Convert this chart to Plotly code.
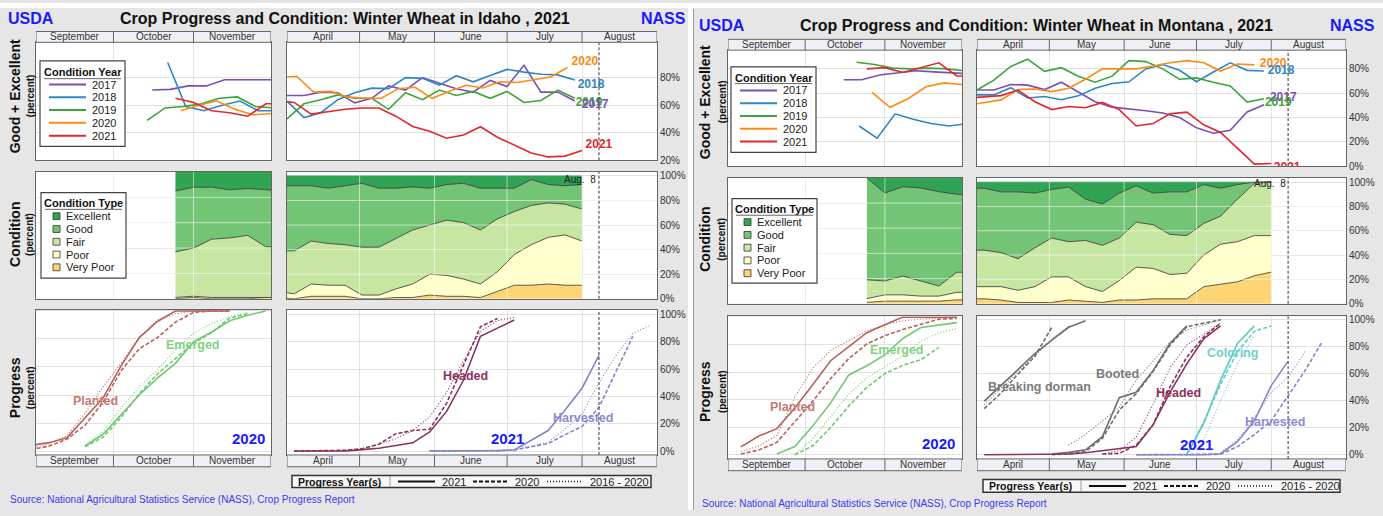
import plotly.graph_objects as go

W, H = 1383, 516
FONT = "Liberation Sans, Arial, Helvetica, sans-serif"

# ---------------- categories / labels ----------------
YEARS = ["2017", "2018", "2019", "2020", "2021"]
COND_TYPES = ["Excellent", "Good", "Fair", "Poor", "Very Poor"]
FALL_MONTHS = ["September", "October", "November"]
FALL_MONTH_LEN = [30, 31, 30]
SPRING_MONTHS = ["April", "May", "June", "July", "August"]
SPRING_MONTH_LEN = [30, 31, 30, 31, 31]
PROGRESS_YEARS = ["2021", "2020", "2016 - 2020"]
LAST_WEEK_DAY = 129  # Aug. 8, days after Apr 1

# ======================= IDAHO =======================
# Good+Excellent (%), weekly; fall x = days after Sep 1, spring x = days after Apr 1
ID_FALL_FIRST = [45, 51, 43, 56, 54]
ID_FALL_GE_2017 = [71, 71.5, 74, 74, 78.5, 78.5, 78.5, 78.5]
ID_FALL_GE_2018 = [91, 59, 56, 60, 63, 56, 56]
ID_FALL_GE_2019 = [49, 58, 59, 61, 65, 66, 59, 58]
ID_FALL_GE_2020 = [56, 60, 63, 57, 53, 54]
ID_FALL_GE_2021 = [65, 62, 56, 54.5, 52, 61, 61]

ID_SPR_FIRST = [0, 0, 0, -3, -4]
ID_SPR_GE_2017 = [67, 67, 69.5, 69, 61.7, 65, 74, 71, 80, 76, 72, 69.5, 78, 73.6, 89, 69.5, 69.5, 63]
ID_SPR_GE_2018 = [63, 51, 54.5, 64, 69, 72.4, 72, 80, 79.5, 74.5, 81.4, 77, 81.5, 86, 84, 82.5, 82, 78.3]
ID_SPR_GE_2019 = [50, 61, 64, 67.5, 65, 65, 57, 69, 64, 71, 67, 70, 65, 70, 62, 63.4, 71, 65]
ID_SPR_GE_2020 = [80, 81, 69.5, 70, 66, 65, 65, 72, 73, 65, 70, 74.5, 72.5, 77, 76.5, 78.5, 80.5, 87.4]
ID_SPR_GE_2021 = [63, 62, 53.5, 55.5, 57, 58, 58, 52, 44.5, 41, 36, 38.3, 44.3, 36.7, 30.7, 25.2, 22.4, 23, 27]

# Condition (%), 2021 crop
ID_FALL_COND_FIRST = 54
ID_FALL_EXC = [15, 12, 12, 14, 13, 14, 15]
ID_FALL_GOOD = [48, 48, 41, 38, 37, 45, 44]
ID_FALL_FAIR = [36, 38, 46, 47, 49, 40, 40]
ID_FALL_POOR = [1, 1, 1, 1, 1, 0, 0]
ID_FALL_VPOOR = [0, 1, 0, 0, 0, 1, 1]

ID_SPR_COND_FIRST = -4
ID_SPR_EXC = [8, 8, 8, 10, 8, 6, 10, 10, 9, 10, 7, 6, 10, 10, 10, 3, 7, 8, 7]
ID_SPR_GOOD = [53, 53, 45, 45, 48, 52, 48, 41, 35, 30, 29, 32, 34, 25, 19, 21, 15, 15, 20]
ID_SPR_FAIR = [33, 35, 35, 34, 33, 39, 39, 41, 44, 40, 45, 46, 44, 43, 35, 32, 28, 25, 26]
ID_SPR_POOR = [5, 4, 10, 9, 9, 3, 3, 7, 11, 17, 17, 14, 11, 16, 25, 33, 38, 41, 36]
ID_SPR_VPOOR = [1, 0, 2, 2, 2, 0, 0, 1, 1, 3, 2, 2, 1, 6, 11, 11, 12, 11, 11]

# Progress (%): [2021, 2020, 2016-2020 avg]
ID_PLANTED_FIRST = [-2, -2, -2]
ID_PLANTED_2021 = [4, 6, 9.5, 24, 38, 61, 81, 92.5, 100, 100, 100, 100]
ID_PLANTED_2020 = [1, 3.5, 8.5, 18.5, 35, 57.5, 73, 81, 92, 99, 100, 100]
ID_PLANTED_AVG = [2, 5, 11, 27, 46, 63, 81, 93.5, 98, 100, 100]
ID_EMERGED_FIRST = [19, 19, 19]
ID_EMERGED_2021 = [3.6, 12, 26, 40, 52, 62.6, 78, 85, 93, 97, 100]
ID_EMERGED_2020 = [3, 10, 24, 41, 55, 66, 77, 84.5, 95, 98]
ID_EMERGED_AVG = [4, 14, 31, 46, 58, 72, 84, 91, 96, 99]
ID_HEADED_FIRST = [3, 3, 3]
ID_HEADED_2021 = [0, 0, 0, 0, 1, 2, 4, 6, 14, 29, 52, 84, 90, 96]
ID_HEADED_2020 = [0, 0, 0, 0.5, 1.5, 5, 12.7, 15, 16, 35, 63, 91, 97]
ID_HEADED_AVG = [0, 0, 0, 0.5, 2, 5, 9, 15, 25, 43, 66, 87.5, 95.5, 98]
ID_HARVEST_FIRST = [59, 59, 59]
ID_HARVEST_2021 = [0, 0, 0, 0, 0.3, 0.7, 8, 15, 30, 46, 70]
ID_HARVEST_2020 = [0, 0, 0, 0, 0.3, 0.7, 3, 5.5, 12, 18, 32, 58, 84]
ID_HARVEST_AVG = [0, 0, 0, 0, 0.3, 0.7, 3.5, 6.7, 16, 27, 50, 70, 86, 92]

# ======================= MONTANA =======================
MT_FALL_FIRST = [45, 51, 50, 56, 54]
MT_FALL_GE_2017 = [71, 71, 75, 76.5, 78.5, 77.5, 77, 76]
MT_FALL_GE_2018 = [33, 23, 43, 38.5, 35, 33, 35]
MT_FALL_GE_2019 = [85.5, 83.6, 80.6, 80, 80.6, 80, 78.5]
MT_FALL_GE_2020 = [60.7, 48.4, 55.4, 65.3, 68.5, 67.2]
MT_FALL_GE_2021 = [80, 81, 77, 81, 85, 74.2, 74]

MT_SPR_FIRST = [0, 0, 0, -4, -4]
MT_SPR_GE_2017 = [62.6, 62.6, 67.2, 66.6, 63, 69, 61, 53, 48.5, 47.2, 45.5, 43.7, 40, 31.5, 27, 29.5, 44.5, 50.5]
MT_SPR_GE_2018 = [58.6, 58.6, 64.5, 56, 57.3, 54.6, 57.8, 64, 68, 69.4, 80, 83.6, 78.8, 69.4, 77.4, 85, 78.8, 78.2]
MT_SPR_GE_2019 = [62.6, 70.7, 82, 88, 78, 81, 74, 69, 74, 86.8, 86, 80, 71.5, 72.6, 69, 66, 52.7, 55.4]
MT_SPR_GE_2020 = [50, 52, 54.5, 63, 63.4, 61.3, 64, 71.5, 80, 80, 80, 82.3, 85, 86.8, 85, 78.2, 84, 83.3]
MT_SPR_GE_2021 = [56, 57, 58, 62.6, 53, 46.5, 49, 48, 52.4, 46.5, 33, 35, 43, 44.4, 34, 27.7, 14.3, 1.6, 2.2]

MT_FALL_COND_FIRST = 54
MT_FALL_EXC = [0, 12, 7, 8, 11, 13, 14]
MT_FALL_GOOD = [81, 70, 71, 74, 75, 62, 61]
MT_FALL_FAIR = [15, 11, 15, 12, 8, 16, 16]
MT_FALL_POOR = [3, 5, 5, 4, 4, 6, 6]
MT_FALL_VPOOR = [1, 2, 2, 2, 2, 3, 3]

MT_SPR_COND_FIRST = -4
MT_SPR_EXC = [5, 5, 8, 8, 9, 6, 4, 14, 18, 9, 3, 9, 8, 8, 2, 5, 2, 0, 0]
MT_SPR_GOOD = [51, 51, 50, 55, 45, 40, 45, 34, 34, 37, 30, 26, 35, 36, 32, 23, 12, 1, 0]
MT_SPR_FAIR = [30, 30, 28, 26, 32, 32, 29, 38, 38, 35, 37, 36, 33, 31, 26, 23, 35, 43, 44]
MT_SPR_POOR = [10, 10, 11, 10, 13, 21, 19, 12, 9, 16, 27, 25, 20, 21, 26, 33, 33, 33, 30]
MT_SPR_VPOOR = [4, 4, 3, 1, 1, 1, 3, 2, 1, 3, 3, 4, 4, 4, 14, 16, 18, 23, 26]

MT_PLANTED_FIRST = [5, 5, 5]
MT_PLANTED_2021 = [5.7, 13.6, 19, 34, 51, 68.5, 78.5, 88.7, 94.5, 100, 100, 100, 100]
MT_PLANTED_2020 = [0.5, 3.5, 9, 24, 39, 55.5, 70, 80.5, 86.5, 91, 95, 98.5, 99]
MT_PLANTED_AVG = [2.2, 6.5, 14, 42, 63, 76, 83, 90, 94.5, 97.4, 98.5, 99.2, 100]
MT_EMERGED_FIRST = [19, 26, 26]
MT_EMERGED_2021 = [0.5, 6, 21, 38, 58, 64.7, 72.5, 84.5, 92.5, 94, 96]
MT_EMERGED_2020 = [0, 6.5, 20, 35.5, 49, 59, 65, 69, 78]
MT_EMERGED_AVG = [0.5, 11.5, 28, 44, 56, 64, 72, 82.5, 88.5, 91.8]
MT_BREAK_FIRST = [3, 3, 3]
MT_BREAK_2021 = [39.5, 51, 63, 74.5, 84.5, 94, 98.8]
MT_BREAK_2020 = [34, 45.5, 59.5, 72.5, 94]
MT_BREAK_AVG = [37, 49, 61, 73, 85, 95]
MT_BOOTED_FIRST = [31, 31, 38]
MT_BOOTED_2021 = [0.5, 1.7, 3.6, 13.3, 42, 46, 62, 82, 95]
MT_BOOTED_2020 = [0, 0.5, 2.4, 12, 33, 45, 61.4, 80.7, 94.5, 97, 99.5]
MT_BOOTED_AVG = [7, 15, 25, 35, 55, 69, 83, 92, 96, 99.5]
MT_HEADED_FIRST = [3, 52, 52]
MT_HEADED_2021 = [0, 0, 0, 0, 0, 0.5, 1.5, 3, 5, 6, 22, 46, 67, 85.5, 95]
MT_HEADED_2020 = [0.5, 1, 7, 22, 50, 72, 87, 97]
MT_HEADED_AVG = [0.5, 3, 13, 37, 64, 81, 89, 97]
MT_COLOR_FIRST = [87, 87, 87]
MT_COLOR_2021 = [0, 23, 55, 82, 95]
MT_COLOR_2020 = [0.5, 24, 52, 76, 91, 95]
MT_COLOR_AVG = [1, 11, 40, 67, 88]
MT_HARVEST_FIRST = [66, 66, 101]
MT_HARVEST_2021 = [0, 0, 0, 0, 0, 0.7, 9.6, 25, 51, 69]
MT_HARVEST_2020 = [0, 0, 0, 0, 0, 0.3, 6, 14.8, 25, 44, 62, 83]
MT_HARVEST_AVG = [1.5, 11, 27, 46, 57, 76]

# ---------------- styles ----------------
YEAR_COLORS = {"2017": "#7d4db6", "2018": "#2f86c6", "2019": "#3aa63a", "2020": "#ff8a12", "2021": "#e5262b"}
COND_COLORS = {"Excellent": "#31a354", "Good": "#74c476", "Fair": "#c7e6a2", "Poor": "#ffffcc", "Very Poor": "#fed574"}
STAGE_COLORS = {"Planted": "#b9615b", "Emerged": "#72c972", "Headed": "#8c3160", "Harvested": "#8585c9",
                "Breaking dorman": "#6e6e6e", "Booted": "#6e6e6e", "Coloring": "#5fcac4"}
LABEL_COLORS = {"Planted": "#c27a74", "Emerged": "#82d282", "Headed": "#8c3160", "Harvested": "#8a8ad0",
                "Breaking dorman": "#7a7a7a", "Booted": "#7a7a7a", "Coloring": "#6fd0ca"}
STYLE = {"2021": dict(dash="solid", width=1.6), "2020": dict(dash="4px,2px", width=1.6),
         "2016 - 2020": dict(dash="1px,2px", width=1.1)}
BG = "#e6e6e6"
GRID = "#e2e2e2"
FRAME = "#666666"
STRIP = "#efeff6"
BLUE = "#1a1aff"


def cumulative(lengths):
    b = [0]
    for v in lengths:
        b.append(b[-1] + v)
    return b


FALL_B = cumulative(FALL_MONTH_LEN)
SPR_B = cumulative(SPRING_MONTH_LEN)

fig = go.Figure()
shapes, annos, layout = [], [], {}


def fx(p):
    return p / W


def fy(p):
    return 1 - p / H


def weeks(first, vals):
    return [first + 7 * i for i in range(len(vals))]


def names(n):
    s = "" if n == 1 else str(n)
    return "xaxis" + s, "yaxis" + s, "x" + s, "y" + s


def make_axes(n, xpx, ypx, xb, yr, yticks, right):
    xk, yk, xr, yref = names(n)
    layout[xk] = dict(domain=[fx(xpx[0]), fx(xpx[1])], range=[xb[0], xb[-1]], anchor=yref,
                      tickvals=xb[1:-1], showticklabels=False, ticks="", showgrid=True,
                      gridcolor=GRID, gridwidth=1, zeroline=False, showline=True, mirror=True,
                      linecolor=FRAME, linewidth=1, fixedrange=True)
    ya = dict(domain=[fy(ypx[1]), fy(ypx[0])], range=yr, anchor=xr, tickvals=yticks,
              showgrid=True, gridcolor=GRID, gridwidth=1, zeroline=False, showline=True,
              mirror=True, linecolor=FRAME, linewidth=1, ticks="", fixedrange=True,
              showticklabels=right)
    if right:
        ya.update(side="right", ticktext=[f"{v}%" for v in yticks],
                  tickfont=dict(size=10, color="#333", family=FONT))
    layout[yk] = ya
    return xr, yref


def text(x, y, s, size=11, color="#222", bold=False, anchor="center", angle=0):
    annos.append(dict(x=fx(x), y=fy(y), xref="paper", yref="paper",
                      text=f"<b>{s}</b>" if bold else s, showarrow=False, xanchor=anchor,
                      yanchor="middle", textangle=angle,
                      font=dict(size=size, color=color, family=FONT)))


def prect(x0, y0, x1, y1, fill, lc=None, lw=1.0, layer="above"):
    shapes.append(dict(type="rect", xref="paper", yref="paper", x0=fx(x0), x1=fx(x1),
                       y0=fy(y1), y1=fy(y0), fillcolor=fill, layer=layer,
                       line=dict(color=lc if lc else "rgba(0,0,0,0)", width=lw if lc else 0)))


def pline(x0, y0, x1, y1, color, width=1.0, dash="solid"):
    shapes.append(dict(type="line", xref="paper", yref="paper", x0=fx(x0), x1=fx(x1),
                       y0=fy(y0), y1=fy(y1), line=dict(color=color, width=width, dash=dash),
                       layer="above"))


def month_strip(xr, xb, mnames, y0, y1):
    shapes.append(dict(type="rect", xref=xr, yref="paper", x0=xb[0], x1=xb[-1], y0=fy(y1),
                       y1=fy(y0), fillcolor=STRIP, line=dict(color=FRAME, width=1), layer="above"))
    for b in xb[1:-1]:
        shapes.append(dict(type="line", xref=xr, yref="paper", x0=b, x1=b, y0=fy(y1), y1=fy(y0),
                           line=dict(color=FRAME, width=1), layer="above"))
    for i, nm in enumerate(mnames):
        annos.append(dict(xref=xr, yref="paper", x=(xb[i] + xb[i + 1]) / 2, y=fy((y0 + y1) / 2),
                          text=nm, showarrow=False, xanchor="center", yanchor="middle",
                          font=dict(size=10, color="#333", family=FONT)))


def grid_overlay(xr, yref, xb, yvals):
    c = "rgba(255,255,255,0.55)"
    for v in yvals:
        shapes.append(dict(type="line", xref=xr + " domain", yref=yref, x0=0, x1=1, y0=v, y1=v,
                           line=dict(color=c, width=1), layer="above"))
    for b in xb[1:-1]:
        shapes.append(dict(type="line", xref=xr, yref=yref + " domain", x0=b, x1=b, y0=0, y1=1,
                           line=dict(color=c, width=1), layer="above"))


def week_line(xr, yref):
    shapes.append(dict(type="line", xref=xr, yref=yref + " domain", x0=LAST_WEEK_DAY,
                       x1=LAST_WEEK_DAY, y0=0, y1=1,
                       line=dict(color="#555", width=1.2, dash="3px,2px"), layer="above"))


def add_line(xr, yref, xs, ys, color, width=1.6, dash="solid"):
    fig.add_trace(go.Scatter(x=xs, y=ys, xaxis=xr, yaxis=yref, mode="lines",
                             line=dict(color=color, width=width, dash=dash), hoverinfo="skip"))


def add_cond(xr, yref, first, cond):
    for t in ["Very Poor", "Poor", "Fair", "Good", "Excellent"]:
        vals = cond[t]
        lc = COND_COLORS[t] if t == "Excellent" else "#333"
        fig.add_trace(go.Scatter(x=weeks(first, vals), y=vals, xaxis=xr, yaxis=yref, mode="lines",
                                 stackgroup="s" + xr, line=dict(color=lc, width=0.8),
                                 fillcolor=COND_COLORS[t], hoverinfo="skip"))


def add_progress(xr, yref, stages):
    for stage, firsts, series in stages:
        for py, first, vals in zip(PROGRESS_YEARS, firsts, series):
            st = STYLE[py]
            add_line(xr, yref, weeks(first, vals), vals, STAGE_COLORS[stage], st["width"], st["dash"])


def build_state(n0, c, d):
    lx, rx = c["lx"], c["rx"]
    ts, tt, tb = c["top"]
    mt, mb = c["mid"]
    bt, bb, bs = c["bot"]
    # top row
    xa, ya = make_axes(n0, lx, (tt, tb), FALL_B, c["top_range"], c["top_ticks"], False)
    month_strip(xa, FALL_B, FALL_MONTHS, ts, tt)
    for yr, first in zip(YEARS, d["fall_first"]):
        vals = d["fall_ge"][yr]
        add_line(xa, ya, weeks(first, vals), vals, YEAR_COLORS[yr])
    xa, ya = make_axes(n0 + 1, rx, (tt, tb), SPR_B, c["top_range"], c["top_ticks"], True)
    month_strip(xa, SPR_B, SPRING_MONTHS, ts, tt)
    week_line(xa, ya)
    for yr, first in zip(YEARS, d["spr_first"]):
        vals = d["spr_ge"][yr]
        add_line(xa, ya, weeks(first, vals), vals, YEAR_COLORS[yr])
    for yr in c["label_order"]:
        lxv, lyv = c["year_labels"][yr]
        fig.add_trace(go.Scatter(x=[lxv], y=[lyv], xaxis=xa, yaxis=ya, mode="text",
                                 text=[f"<b>{yr}</b>"], cliponaxis=True, hoverinfo="skip",
                                 textfont=dict(size=12, color=YEAR_COLORS[yr], family=FONT)))
    # condition row
    ticks = [0, 20, 40, 60, 80, 100]
    xa, ya = make_axes(n0 + 2, lx, (mt, mb), FALL_B, [0, 100], ticks, False)
    add_cond(xa, ya, d["fall_cond_first"], d["fall_cond"])
    grid_overlay(xa, ya, FALL_B, [20, 40, 60, 80])
    xa, ya = make_axes(n0 + 3, rx, (mt, mb), SPR_B, c["midR_range"], ticks, True)
    add_cond(xa, ya, d["spr_cond_first"], d["spr_cond"])
    grid_overlay(xa, ya, SPR_B, [20, 40, 60, 80])
    week_line(xa, ya)
    text(c["aug_xy"][0], c["aug_xy"][1], "Aug.\u00a0 8", size=10, color="#222")
    # progress row
    xa, ya = make_axes(n0 + 4, lx, (bt, bb), FALL_B, c["botL_range"], ticks, False)
    month_strip(xa, FALL_B, FALL_MONTHS, bb, bs)
    add_progress(xa, ya, d["fall_prog"])
    xa, ya = make_axes(n0 + 5, rx, (bt, bb), SPR_B, c["botR_range"], ticks, True)
    month_strip(xa, SPR_B, SPRING_MONTHS, bb, bs)
    week_line(xa, ya)
    add_progress(xa, ya, d["spr_prog"])
    for lab, (px, py) in c["stage_labels"].items():
        text(px, py, lab, size=12.5, color=LABEL_COLORS[lab], bold=True)
    for yr, (px, py) in c["season_labels"].items():
        text(px, py, yr, size=15, color=BLUE, bold=True)

    # titles
    ty = c["title_y"]
    text(c["usda_x"], ty, "USDA", size=16, color=BLUE, bold=True)
    text(c["title_x"], ty, f"Crop Progress and Condition: Winter Wheat in {c['name']} , 2021",
         size=16, color="#111", bold=True)
    text(c["nass_x"], ty, "NASS", size=16, color=BLUE, bold=True)
    # y-axis titles
    ax1, ax2 = c["ytitle_x"]
    for (main, yc) in zip(["Good + Excellent", "Condition", "Progress"], c["ytitle_y"]):
        text(ax1, yc, main, size=14, color="#111", bold=True, angle=-90)
        text(ax2, yc, "(percent)", size=10, color="#111", bold=True, angle=-90)
    # condition year legend
    b = c["year_leg"]
    prect(b[0], b[1], b[2], b[3], "white", "#444", 1.2)
    text((b[0] + b[2]) / 2, b[4], "Condition Year", size=11, color="#111", bold=True)
    pline(b[0] + 4, b[5], b[2] - 4, b[5], "#666", 1)
    for yr, ry in zip(YEARS, b[6]):
        pline(b[7], ry, b[8], ry, YEAR_COLORS[yr], 2)
        text(b[9], ry, yr, size=11, color="#222", anchor="left")
    # condition type legend
    b = c["type_leg"]
    prect(b[0], b[1], b[2], b[3], "white", "#444", 1.2)
    text((b[0] + b[2]) / 2, b[4], "Condition Type", size=11, color="#111", bold=True)
    pline(b[0] + 4, b[5], b[2] - 4, b[5], "#666", 1)
    for t, ry in zip(COND_TYPES, b[6]):
        prect(b[7], ry - 3.5, b[7] + 7, ry + 3.5, COND_COLORS[t], "#333", 0.8)
        text(b[8], ry, t, size=11, color="#222", anchor="left")
    # progress year legend
    x0, y0, x1, y1 = c["prog_leg"]
    ym = (y0 + y1) / 2
    prect(x0, y0, x1, y1, "#f8f8f8", "#333", 1.5)
    text(x0 + 4, ym, "Progress Year(s)", size=10.5, color="#111", bold=True, anchor="left")
    pline(x0 + 98, y0 + 1, x0 + 98, y1 - 1, "#999", 1)
    offs = [(106, 143, 148), (181, 216, 221), (255, 291, 296)]
    for py, (a, bb2, tx) in zip(PROGRESS_YEARS, offs):
        st = STYLE[py]
        pline(x0 + a, ym, x0 + bb2, ym, "#111", st["width"] + 0.4, st["dash"])
        text(x0 + tx, ym, py, size=11, color="#222", anchor="left")
    # source
    sx, sy = c["source_xy"]
    text(sx, sy, "Source: National Agricultural Statistics Service (NASS), Crop Progress Report",
         size=10, color="#3a3af0", anchor="left")


ID_CFG = dict(
    name="Idaho", lx=(36, 271), rx=(287, 657), top=(29, 40, 160), mid=(172, 301),
    bot=(312, 460, 472), top_range=[20, 105.7], top_ticks=[20, 40, 60, 80],
    midR_range=[0, 103.2], botL_range=[-2.8, 101], botR_range=[-2.9, 103.6],
    year_labels={"2020": (123.2, 91.4), "2018": (125.7, 75), "2019": (124.9, 61.4),
                 "2017": (127.4, 60), "2021": (129, 31.4)},
    label_order=["2020", "2018", "2019", "2017", "2021"],
    aug_xy=(580, 180),
    stage_labels={"Planted": (95, 405), "Emerged": (193, 348), "Headed": (465, 380),
                  "Harvested": (583, 422)},
    season_labels={"2020": (248, 443), "2021": (507, 443)},
    title_y=16, usda_x=31, title_x=345, nass_x=663,
    ytitle_x=(15, 30), ytitle_y=(95, 236, 392),
    year_leg=(40, 59, 125, 146, 70, 77, [83, 96, 109, 122, 135], 49, 86, 90),
    type_leg=(41, 193, 126, 280, 204, 210, [217, 230, 243, 256, 269], 53, 64),
    prog_leg=(292, 481, 651, 493), source_xy=(8, 505),
)
MT_CFG = dict(
    name="Montana", lx=(728, 962), rx=(977, 1346), top=(37, 48, 166), mid=(178, 306),
    bot=(319, 464, 476), top_range=[0, 95.4], top_ticks=[0, 20, 40, 60, 80],
    midR_range=[0, 103.5], botL_range=[-3, 100.5], botR_range=[-3.1, 102],
    year_labels={"2020": (122.8, 84), "2018": (126.1, 78.4), "2017": (127, 55.8),
                 "2019": (124.9, 51.7), "2021": (128.6, -1.8)},
    label_order=["2020", "2018", "2017", "2019", "2021"],
    aug_xy=(1270, 184),
    stage_labels={"Planted": (792, 411), "Emerged": (897, 353), "Breaking dorman": (1039, 391),
                  "Booted": (1117, 378), "Headed": (1178, 397), "Coloring": (1232, 356),
                  "Harvested": (1275, 426)},
    season_labels={"2020": (938, 448), "2021": (1196, 449)},
    title_y=23, usda_x=722, title_x=1036, nass_x=1352,
    ytitle_x=(705, 722), ytitle_y=(101, 241, 396),
    year_leg=(731, 65, 816, 152, 76, 82, [89, 102, 115, 128, 141], 740, 777, 781),
    type_leg=(732, 199, 817, 285, 210, 216, [223, 236, 249, 262, 275], 744, 755),
    prog_leg=(983, 485, 1340, 498), source_xy=(700, 509),
)

ID_DATA = dict(
    fall_first=ID_FALL_FIRST, spr_first=ID_SPR_FIRST,
    fall_ge=dict(zip(YEARS, [ID_FALL_GE_2017, ID_FALL_GE_2018, ID_FALL_GE_2019, ID_FALL_GE_2020, ID_FALL_GE_2021])),
    spr_ge=dict(zip(YEARS, [ID_SPR_GE_2017, ID_SPR_GE_2018, ID_SPR_GE_2019, ID_SPR_GE_2020, ID_SPR_GE_2021])),
    fall_cond_first=ID_FALL_COND_FIRST, spr_cond_first=ID_SPR_COND_FIRST,
    fall_cond=dict(zip(COND_TYPES, [ID_FALL_EXC, ID_FALL_GOOD, ID_FALL_FAIR, ID_FALL_POOR, ID_FALL_VPOOR])),
    spr_cond=dict(zip(COND_TYPES, [ID_SPR_EXC, ID_SPR_GOOD, ID_SPR_FAIR, ID_SPR_POOR, ID_SPR_VPOOR])),
    fall_prog=[("Planted", ID_PLANTED_FIRST, [ID_PLANTED_2021, ID_PLANTED_2020, ID_PLANTED_AVG]),
               ("Emerged", ID_EMERGED_FIRST, [ID_EMERGED_2021, ID_EMERGED_2020, ID_EMERGED_AVG])],
    spr_prog=[("Headed", ID_HEADED_FIRST, [ID_HEADED_2021, ID_HEADED_2020, ID_HEADED_AVG]),
              ("Harvested", ID_HARVEST_FIRST, [ID_HARVEST_2021, ID_HARVEST_2020, ID_HARVEST_AVG])],
)
MT_DATA = dict(
    fall_first=MT_FALL_FIRST, spr_first=MT_SPR_FIRST,
    fall_ge=dict(zip(YEARS, [MT_FALL_GE_2017, MT_FALL_GE_2018, MT_FALL_GE_2019, MT_FALL_GE_2020, MT_FALL_GE_2021])),
    spr_ge=dict(zip(YEARS, [MT_SPR_GE_2017, MT_SPR_GE_2018, MT_SPR_GE_2019, MT_SPR_GE_2020, MT_SPR_GE_2021])),
    fall_cond_first=MT_FALL_COND_FIRST, spr_cond_first=MT_SPR_COND_FIRST,
    fall_cond=dict(zip(COND_TYPES, [MT_FALL_EXC, MT_FALL_GOOD, MT_FALL_FAIR, MT_FALL_POOR, MT_FALL_VPOOR])),
    spr_cond=dict(zip(COND_TYPES, [MT_SPR_EXC, MT_SPR_GOOD, MT_SPR_FAIR, MT_SPR_POOR, MT_SPR_VPOOR])),
    fall_prog=[("Planted", MT_PLANTED_FIRST, [MT_PLANTED_2021, MT_PLANTED_2020, MT_PLANTED_AVG]),
               ("Emerged", MT_EMERGED_FIRST, [MT_EMERGED_2021, MT_EMERGED_2020, MT_EMERGED_AVG])],
    spr_prog=[("Breaking dorman", MT_BREAK_FIRST, [MT_BREAK_2021, MT_BREAK_2020, MT_BREAK_AVG]),
              ("Booted", MT_BOOTED_FIRST, [MT_BOOTED_2021, MT_BOOTED_2020, MT_BOOTED_AVG]),
              ("Headed", MT_HEADED_FIRST, [MT_HEADED_2021, MT_HEADED_2020, MT_HEADED_AVG]),
              ("Coloring", MT_COLOR_FIRST, [MT_COLOR_2021, MT_COLOR_2020, MT_COLOR_AVG]),
              ("Harvested", MT_HARVEST_FIRST, [MT_HARVEST_2021, MT_HARVEST_2020, MT_HARVEST_AVG])],
)

# page background pieces (white gaps around the two gray dashboards)
prect(0, 0, W, 5, "white", layer="below")
prect(688, 0, 693, H, "white", layer="below")
pline(693.5, 6, 693.5, H, "#9a9a9a", 1)

build_state(1, ID_CFG, ID_DATA)
build_state(7, MT_CFG, MT_DATA)

layout.update(width=W, height=H, autosize=False, margin=dict(l=0, r=0, t=0, b=0),
              paper_bgcolor=BG, plot_bgcolor="white", showlegend=False,
              font=dict(family=FONT, color="#222"), shapes=shapes, annotations=annos,
              hovermode=False)
fig.update_layout(**layout)
fig.write_html("out.html", config={"displayModeBar": False},
               post_script="document.body.style.margin='0';document.body.style.overflow='hidden';")
